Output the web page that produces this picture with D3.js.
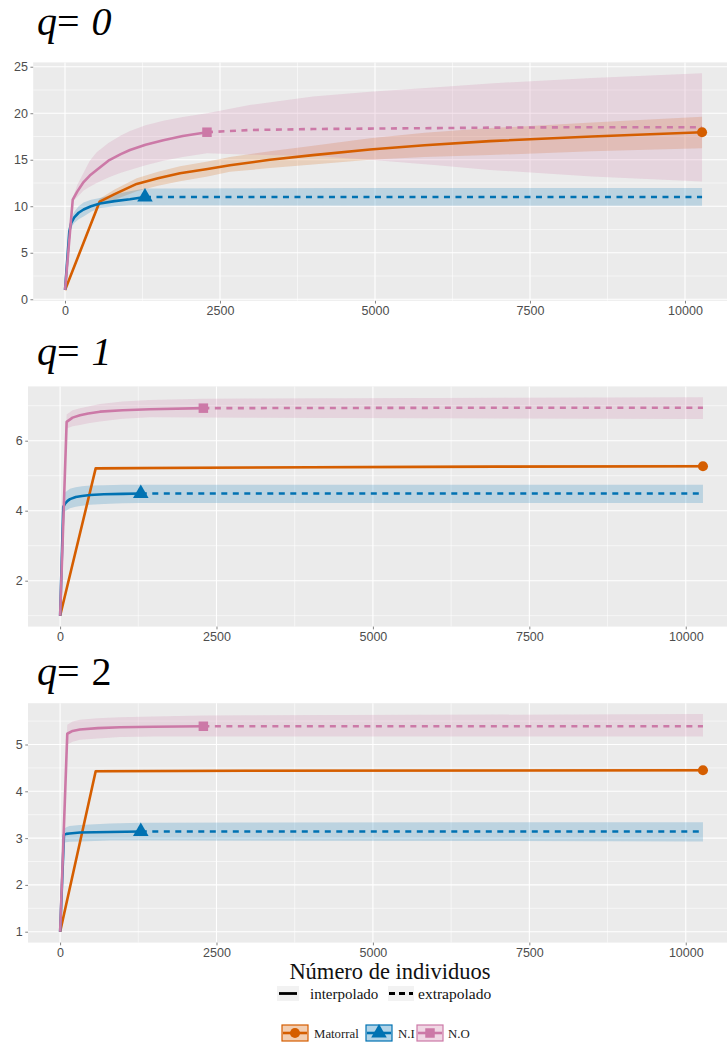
<!DOCTYPE html>
<html><head><meta charset="utf-8">
<script src="https://cdn.jsdelivr.net/npm/d3@7"></script>
<style>body{margin:0;background:#fff}</style></head><body>
<svg id="c" width="727" height="1043"></svg>
<script>
// ---------- data ----------
const sites = ["Matorral", "N.I", "N.O"];
const observedSize = [10275, 1290, 2290];
const orderLabels = ["0", "1", "2"];
const xTickValues = [0, 2500, 5000, 7500, 10000];
const yTicksQ0 = [0, 5, 10, 15, 20, 25];
const yTicksQ1 = [2, 4, 6];
const yTicksQ2 = [1, 2, 3, 4, 5];
const xAxisTitle = "Número de individuos";
const lineTypeLabels = ["interpolado", "extrapolado"];

// rows: [m, estimate, lower, upper]
const q0_Matorral = [[1,1,1,1],[560,10.5,10.2,10.8],[800,11.3,10.7,11.8],[1156,12.4,11.6,13.0],[1500,13.0,12.2,13.7],[1855,13.55,12.7,14.3],[2300,14.0,13.2,14.8],[2661,14.4,13.7,15.3],[3306,15.0,14.1,15.9],[4000,15.5,14.5,16.5],[4919,16.1,15.0,17.3],[5800,16.55,15.3,17.9],[6855,17.0,15.5,18.4],[8500,17.5,15.9,19.0],[10275,17.96,16.24,19.63]];
const q0_NI = [[1,1,1,1],[70,7.3,6.9,7.7],[100,8.2,7.7,8.7],[150,8.8,8.2,9.4],[220,9.3,8.6,10.0],[300,9.65,8.9,10.4],[420,10.0,9.4,10.7],[565,10.3,9.8,10.9],[800,10.55,10.0,11.3],[1048,10.75,10.1,11.6],[1290,11.0,10.1,11.9],[5000,11.0,10.05,11.95],[10275,11.0,10.05,11.95]];
const q0_NO = [[1,1,1,1],[125,10.7,10.5,10.9],[200,11.6,11.0,12.3],[300,12.6,11.7,13.6],[400,13.3,12.1,14.9],[511,13.9,12.5,15.8],[700,14.9,13.1,16.8],[900,15.6,13.6,17.6],[1048,16.05,13.9,18.1],[1300,16.6,14.4,18.7],[1586,17.1,14.9,19.2],[1900,17.55,15.3,19.6],[2290,17.96,15.7,20.0],[3000,18.2,15.55,20.9],[4000,18.3,15.4,21.8],[4919,18.35,15.0,22.3],[6000,18.4,14.4,22.8],[6855,18.45,13.9,23.2],[8500,18.5,13.2,23.8],[10275,18.5,12.65,24.3]];

const q1_Matorral = [[1,1,1,1],[569,5.21,5.17,5.25],[1500,5.22,5.18,5.26],[4000,5.24,5.2,5.28],[7000,5.26,5.22,5.3],[10275,5.27,5.23,5.31]];
const q1_NI = [[1,1,1,1],[51,4.11,3.88,4.45],[80,4.2,3.98,4.52],[120,4.28,4.03,4.58],[158,4.33,4.07,4.63],[250,4.39,4.11,4.67],[350,4.42,4.14,4.7],[478,4.45,4.17,4.72],[700,4.47,4.19,4.73],[1000,4.48,4.21,4.74],[1290,4.49,4.22,4.74],[5000,4.49,4.22,4.74],[10275,4.49,4.22,4.74]];
const q1_NO = [[1,1,1,1],[105,6.54,6.35,6.75],[200,6.66,6.41,6.87],[318,6.73,6.45,6.93],[450,6.78,6.5,6.98],[638,6.83,6.55,7.05],[1000,6.87,6.63,7.12],[1437,6.9,6.67,7.16],[2290,6.93,6.66,7.2],[6000,6.94,6.64,7.22],[10275,6.94,6.62,7.24]];

const q2_Matorral = [[1,1,1,1],[569,4.43,4.4,4.46],[3000,4.44,4.41,4.47],[10275,4.45,4.42,4.48]];
const q2_NI = [[1,1,1,1],[62,3.07,2.9,3.2],[100,3.09,2.91,3.23],[150,3.1,2.92,3.26],[318,3.12,2.93,3.28],[800,3.13,2.95,3.31],[1290,3.14,2.95,3.33],[10275,3.14,2.93,3.34]];
const q2_NO = [[1,1,1,1],[115,5.23,5.0,5.42],[200,5.29,5.06,5.49],[318,5.32,5.1,5.53],[600,5.35,5.13,5.56],[958,5.37,5.16,5.58],[1500,5.38,5.17,5.6],[2290,5.39,5.17,5.62],[10275,5.39,5.17,5.65]];

// ---------- style / layout ----------
const colors = ["#D55E00", "#0072B2", "#CC79A7"];
const shapes = [d3.symbolCircle, d3.symbolTriangle, d3.symbolSquare];
const shapeSizes = [80, 105, 90];
const serif = "Liberation Serif, Times New Roman, serif";
const panels = [
  {data:[q0_Matorral,q0_NI,q0_NO], ticks:yTicksQ0, box:{x0:33.2,x1:733.9,y0:62.4,y1:300.8}, titleY:35, italicNum:true},
  {data:[q1_Matorral,q1_NI,q1_NO], ticks:yTicksQ1, box:{x0:28,x1:735.1,y0:386.4,y1:626.6}, titleY:365, italicNum:true},
  {data:[q2_Matorral,q2_NI,q2_NO], ticks:yTicksQ2, box:{x0:28,x1:735.1,y0:703.2,y1:942.6}, titleY:685, italicNum:false}
];

const svg = d3.select("#c");
const maxM = d3.max(observedSize);

panels.forEach((p, pi) => {
  const b = p.box;
  const xExp = (maxM - 1) * 0.05;
  const x = d3.scaleLinear().domain([1 - xExp, maxM + xExp]).range([b.x0, b.x1]);
  const all = p.data.flat();
  const lo = d3.min(all, r => r[2]), hi = d3.max(all, r => r[3]);
  const yExp = (hi - lo) * 0.05;
  const y = d3.scaleLinear().domain([lo - yExp, hi + yExp]).range([b.y1, b.y0]);

  const g = svg.append("g");
  g.append("rect").attr("x", b.x0).attr("y", b.y0).attr("width", b.x1 - b.x0).attr("height", b.y1 - b.y0).attr("fill", "#EBEBEB");

  // minor grid
  const yt = p.ticks, step = yt[1] - yt[0];
  const yMinor = [];
  for (let v = yt[0] - step / 2; v <= y.domain()[1]; v += step) if (v >= y.domain()[0]) yMinor.push(v);
  const xMinor = [];
  for (let v = -1250; v <= x.domain()[1]; v += 2500) if (v >= x.domain()[0]) xMinor.push(v);
  g.selectAll(".ymn").data(yMinor).join("line").attr("x1", b.x0).attr("x2", b.x1).attr("y1", d => y(d)).attr("y2", d => y(d)).attr("stroke", "#fff").attr("stroke-width", 0.55);
  g.selectAll(".xmn").data(xMinor).join("line").attr("y1", b.y0).attr("y2", b.y1).attr("x1", d => x(d)).attr("x2", d => x(d)).attr("stroke", "#fff").attr("stroke-width", 0.55);
  g.selectAll(".ymj").data(yt).join("line").attr("x1", b.x0).attr("x2", b.x1).attr("y1", d => y(d)).attr("y2", d => y(d)).attr("stroke", "#fff").attr("stroke-width", 1.1);
  g.selectAll(".xmj").data(xTickValues).join("line").attr("y1", b.y0).attr("y2", b.y1).attr("x1", d => x(d)).attr("x2", d => x(d)).attr("stroke", "#fff").attr("stroke-width", 1.1);

  // axes
  const yAxis = d3.axisLeft(y).tickValues(yt).tickSize(2.75).tickPadding(2.5).tickFormat(d3.format("d"));
  const ya = g.append("g").attr("transform", `translate(${b.x0},0)`).call(yAxis);
  const xAxis = d3.axisBottom(x).tickValues(xTickValues).tickSize(2.75).tickPadding(2.5).tickFormat(d3.format("d"));
  const xa = g.append("g").attr("transform", `translate(0,${b.y1})`).call(xAxis);
  [ya, xa].forEach(a => {
    a.select(".domain").remove();
    a.selectAll(".tick line").attr("stroke", "#333").attr("stroke-width", 0.6);
    a.selectAll(".tick text").attr("fill", "#4d4d4d").attr("font-family", "Liberation Sans, Arial, sans-serif").attr("font-size", 12.5);
  });

  // ribbons
  const area = d3.area().x(r => x(r[0])).y0(r => y(r[2])).y1(r => y(r[3]));
  p.data.forEach((rows, si) => {
    g.append("path").attr("d", area(rows)).attr("fill", colors[si]).attr("fill-opacity", 0.2);
  });
  // lines
  const line = d3.line().x(r => x(r[0])).y(r => y(r[1]));
  p.data.forEach((rows, si) => {
    const n = observedSize[si];
    const interp = rows.filter(r => r[0] <= n);
    const extrap = rows.filter(r => r[0] >= n);
    g.append("path").attr("d", line(interp)).attr("fill", "none").attr("stroke", colors[si]).attr("stroke-width", 2.6).attr("stroke-linejoin", "round");
    if (extrap.length > 1)
      g.append("path").attr("d", line(extrap)).attr("fill", "none").attr("stroke", colors[si]).attr("stroke-width", 2.6).attr("stroke-dasharray", "6,5.5");
  });
  // observed points
  p.data.forEach((rows, si) => {
    const n = observedSize[si];
    const r = rows.find(r => r[0] === n);
    g.append("path").attr("d", d3.symbol().type(shapes[si]).size(shapeSizes[si])())
      .attr("transform", `translate(${x(r[0])},${y(r[1])})`).attr("fill", colors[si]);
  });

  // title
  const t = svg.append("text").attr("x", 37).attr("y", p.titleY).attr("font-family", serif).attr("font-size", 40).attr("fill", "#000");
  t.append("tspan").attr("font-style", "italic").text("q");
  t.append("tspan").text("= ");
  t.append("tspan").attr("font-style", p.italicNum ? "italic" : "normal").attr("dx", 2).text(orderLabels[pi]);
});

// x-axis title
svg.append("text").attr("x", 390).attr("y", 979).attr("text-anchor", "middle")
  .attr("font-family", serif).attr("font-size", 22.5).attr("fill", "#111").text(xAxisTitle);

// linetype legend
const lt = svg.append("g");
lt.append("rect").attr("x", 277).attr("y", 986).attr("width", 22).attr("height", 15).attr("fill", "#f2f2f2");
lt.append("line").attr("x1", 279).attr("x2", 297).attr("y1", 993.5).attr("y2", 993.5).attr("stroke", "#000").attr("stroke-width", 2.8);
lt.append("text").attr("x", 310).attr("y", 998.5).attr("font-family", serif).attr("font-size", 15).attr("fill", "#111").text(lineTypeLabels[0]);
lt.append("rect").attr("x", 388).attr("y", 986).attr("width", 26).attr("height", 15).attr("fill", "#f2f2f2");
lt.append("line").attr("x1", 389).attr("x2", 413).attr("y1", 993.5).attr("y2", 993.5).attr("stroke", "#000").attr("stroke-width", 2.8).attr("stroke-dasharray", "6,4");
lt.append("text").attr("x", 418).attr("y", 998.5).attr("font-family", serif).attr("font-size", 15.5).attr("fill", "#111").text(lineTypeLabels[1]);

// color legend
const keyX = [282, 366, 417];
const labX = [314, 398, 448];
const cl = svg.append("g");
sites.forEach((s, i) => {
  cl.append("rect").attr("x", keyX[i]).attr("y", 1025).attr("width", 26).attr("height", 16)
    .attr("fill", colors[i]).attr("fill-opacity", 0.3).attr("stroke", colors[i]).attr("stroke-width", 1.2);
  cl.append("line").attr("x1", keyX[i] + 1).attr("x2", keyX[i] + 25).attr("y1", 1033).attr("y2", 1033).attr("stroke", colors[i]).attr("stroke-width", 2.6);
  cl.append("path").attr("d", d3.symbol().type(shapes[i]).size(shapeSizes[i])()).attr("transform", `translate(${keyX[i] + 13},1033)`).attr("fill", colors[i]);
  cl.append("text").attr("x", labX[i]).attr("y", 1037.5).attr("font-family", serif).attr("font-size", 12.8).attr("fill", "#222").text(s);
});
</script>
</body></html>
